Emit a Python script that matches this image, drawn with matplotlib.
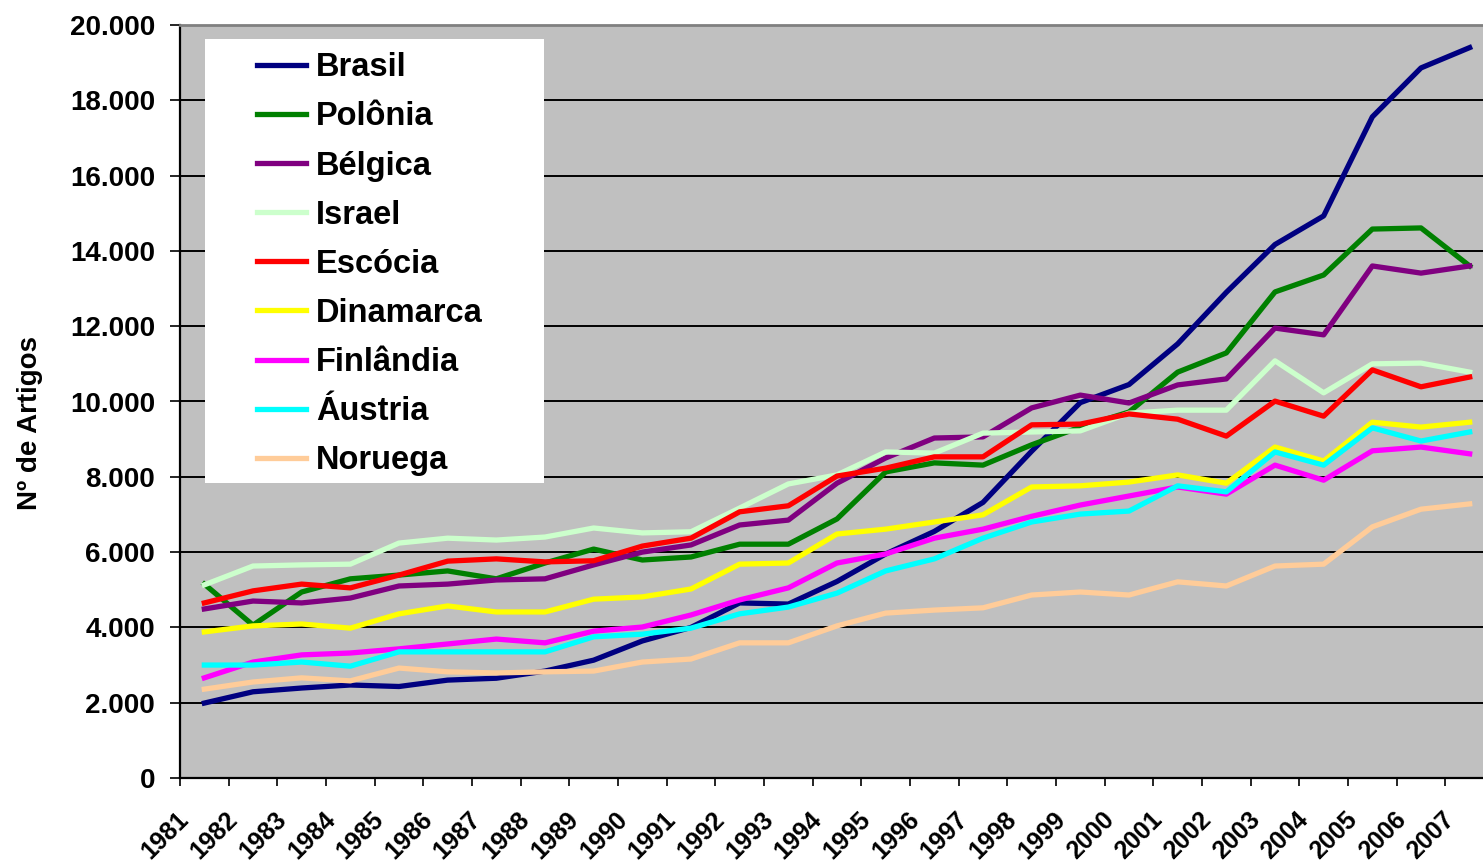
import matplotlib
matplotlib.use("Agg")
import matplotlib.pyplot as plt
import matplotlib.transforms as mtransforms
from matplotlib.patches import Rectangle
from matplotlib.ticker import FuncFormatter, FixedLocator
import numpy as np

plt.rcParams['font.family'] = ['Liberation Sans', 'DejaVu Sans']
plt.rcParams['font.weight'] = 'bold'

years = [str(y) for y in range(1981, 2008)]

brasil = [1990, 2290, 2390, 2470, 2430, 2600, 2650, 2840, 3130, 3640, 4000, 4650, 4620, 5220,
          5950, 6550, 7320, 8680, 9970, 10450, 11530, 12900, 14170, 14930, 17560, 18860, 19400]
polonia = [5150, 4060, 4940, 5290, 5390, 5500, 5290, 5710, 6080, 5790, 5870, 6210, 6210, 6880,
           8130, 8370, 8310, 8850, 9320, 9720, 10780, 11290, 12910, 13360, 14580, 14610, 13600]
belgica = [4490, 4700, 4650, 4780, 5100, 5150, 5260, 5290, 5660, 6000, 6190, 6720, 6850, 7830,
           8500, 9030, 9060, 9830, 10170, 9960, 10440, 10600, 11950, 11770, 13600, 13410, 13600]
israel = [5130, 5630, 5660, 5680, 6240, 6370, 6320, 6400, 6640, 6510, 6540, 7170, 7810, 8050,
          8660, 8630, 9160, 9190, 9220, 9690, 9770, 9770, 11080, 10230, 11000, 11020, 10780]
escocia = [4650, 4970, 5150, 5050, 5390, 5760, 5820, 5740, 5770, 6160, 6370, 7070, 7230, 8020,
           8230, 8530, 8530, 9380, 9400, 9670, 9530, 9080, 10010, 9610, 10840, 10390, 10650]
dinamarca = [3880, 4040, 4090, 3980, 4360, 4570, 4410, 4410, 4750, 4810, 5020, 5680, 5710, 6480,
             6610, 6800, 6990, 7730, 7760, 7860, 8050, 7830, 8790, 8420, 9450, 9320, 9450]
finlandia = [2660, 3080, 3270, 3320, 3430, 3560, 3690, 3590, 3900, 4010, 4330, 4730, 5050, 5710,
             5950, 6370, 6610, 6950, 7250, 7490, 7730, 7540, 8310, 7910, 8690, 8790, 8610]
austria = [3000, 3000, 3080, 2970, 3350, 3350, 3350, 3350, 3750, 3820, 3980, 4360, 4540, 4910,
           5500, 5820, 6370, 6800, 7010, 7090, 7760, 7600, 8660, 8310, 9300, 8950, 9190]
noruega = [2360, 2550, 2660, 2580, 2920, 2820, 2790, 2820, 2840, 3080, 3160, 3590, 3590, 4040,
           4380, 4460, 4520, 4860, 4940, 4860, 5210, 5100, 5630, 5680, 6670, 7140, 7280]

names = ["Brasil", "Polônia", "Bélgica", "Israel", "Escócia", "Dinamarca", "Finlândia", "Áustria", "Noruega"]
series = [brasil, polonia, belgica, israel, escocia, dinamarca, finlandia, austria, noruega]
colors = ["#000080", "#008000", "#800080", "#CCFFCC", "#FF0000", "#FFFF00", "#FF00FF", "#00FFFF", "#FFCC99"]

W, H = 1483, 863
fig = plt.figure(figsize=(W / 100, H / 100), dpi=100)
# plot area runs a bit past the right edge of the picture, as in the original
ax = fig.add_axes([180 / W, 1 - 778 / H, (1494 - 180) / W, (778 - 25) / H])
ax.set_facecolor("#C0C0C0")

x = np.arange(len(years))
for name, vals, c in zip(names, series, colors):
    ax.plot(x, vals, color=c, lw=3.8, label=name, solid_joinstyle='round', zorder=3)

ax.set_xlim(-0.5, len(years) - 0.5)
ax.set_ylim(0, 20000)

# y axis
ax.set_yticks(np.arange(0, 20001, 2000))
ax.yaxis.set_major_formatter(FuncFormatter(lambda v, p: f"{v:,.0f}".replace(",", ".")))
ax.tick_params(axis='y', direction='out', length=7, width=1.2, pad=11, labelsize=20)
ax.yaxis.grid(True, color='black', lw=1.4)
ax.set_axisbelow(True)

# x axis: labels at category centres, tick marks at category edges
ax.set_xticks(x)
ax.set_xticklabels(years, rotation=45, ha='right', va='center', rotation_mode='anchor')
ax.tick_params(axis='x', which='major', length=0, pad=27, labelsize=18)
ax.xaxis.set_minor_locator(FixedLocator(np.arange(-0.5, len(years), 1)))
ax.tick_params(axis='x', which='minor', direction='out', length=6, width=1.2)
shift = mtransforms.ScaledTranslation(-19 / 100, 0, fig.dpi_scale_trans)
for lab in ax.get_xticklabels():
    lab.set_transform(lab.get_transform() + shift)

for s in ['left', 'bottom']:
    ax.spines[s].set_color('black')
    ax.spines[s].set_linewidth(1.6)
ax.spines['top'].set_color('#808080')
ax.spines['top'].set_linewidth(2)
ax.spines['right'].set_visible(False)

fig.text(30 / W, 1 - 423 / H, "Nº de Artigos", rotation=90, ha='center', va='center', fontsize=20)

# legend box
box = Rectangle((205 / W, 1 - 483 / H), (544 - 205) / W, (483 - 39) / H,
                transform=fig.transFigure, facecolor='white', edgecolor='none',
                zorder=4, clip_on=False)
ax.add_patch(box)
leg = ax.legend(loc='upper left', bbox_to_anchor=(241 / W, 1 - 36 / H), bbox_transform=fig.transFigure,
                frameon=False, fontsize=23.5, borderpad=0, handlelength=1.5, handletextpad=0.3,
                labelspacing=0.555)
leg.set_zorder(5)
for t in leg.get_texts():
    t.set_fontweight('bold')

fig.savefig("out.png", dpi=100)
